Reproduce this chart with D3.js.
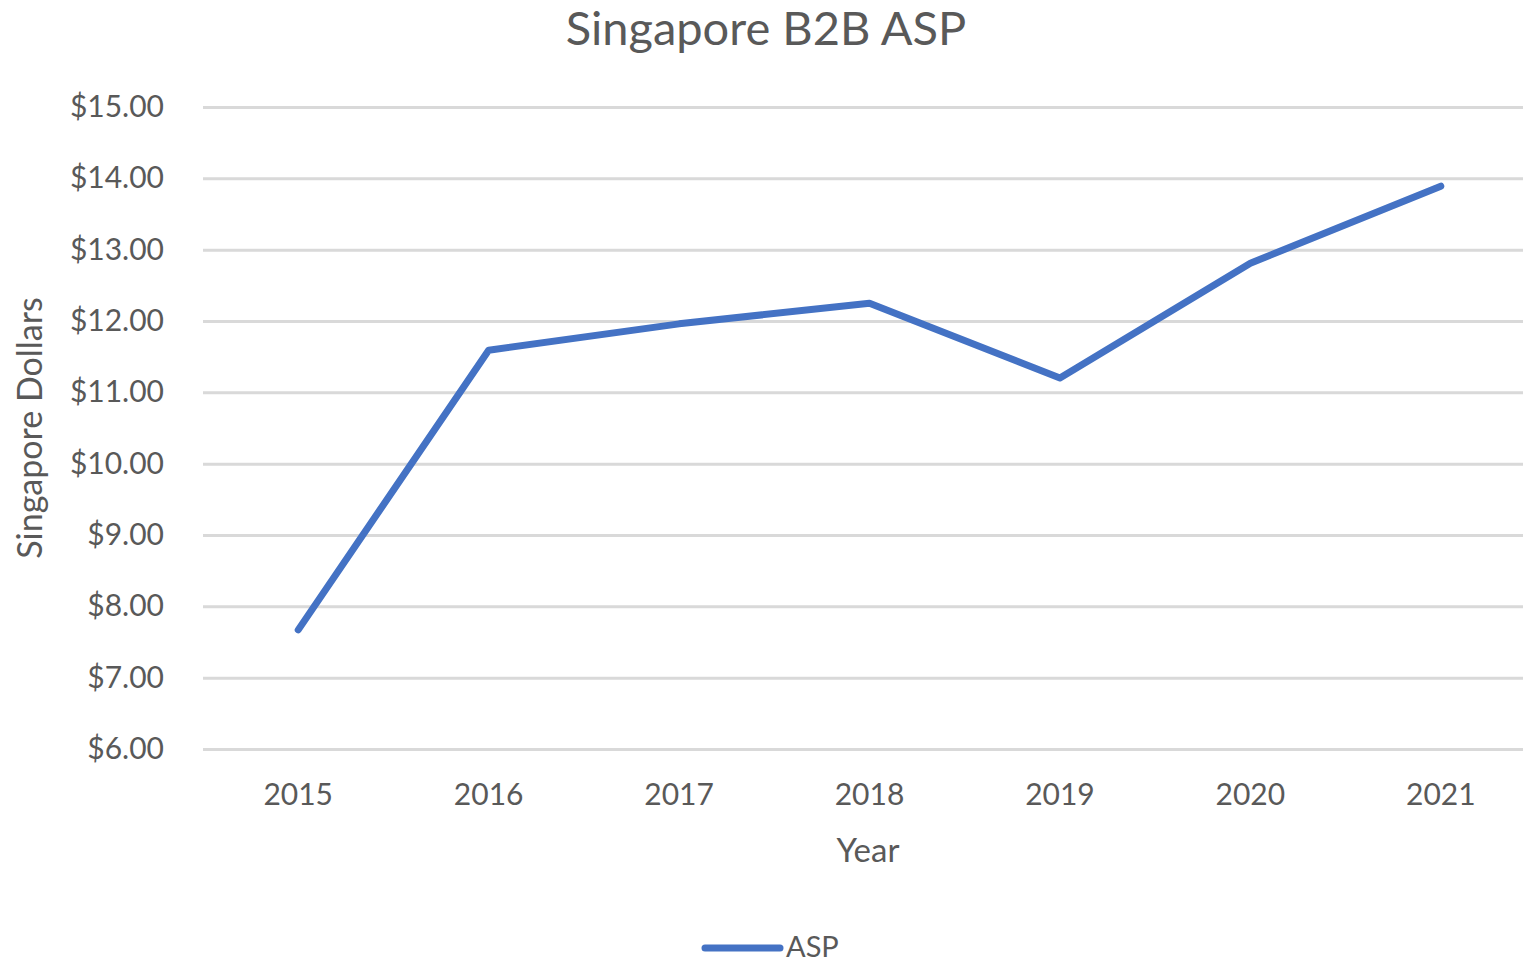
<!DOCTYPE html>
<html>
<head>
<meta charset="utf-8">
<script src="https://cdn.jsdelivr.net/npm/d3@7"></script>
<style>
  html, body { margin: 0; padding: 0; background: #fff; }
  svg { display: block; font-family: Lato, "Open Sans", sans-serif; }
</style>
</head>
<body>
<div id="chart"></div>
<script>
// Singapore B2B ASP — lijn per jaar
const years = ['2015', '2016', '2017', '2018', '2019', '2020', '2021'];
const asp = [7.67, 11.59, 11.96, 12.25, 11.20, 12.81, 13.89];
const yTicks = [6, 7, 8, 9, 10, 11, 12, 13, 14, 15];

const W = 1524, H = 963;
const margin = { top: 107, left: 203 };
const bandW = 1333;            // breedte van de categorie-as (loopt net buiten beeld)
const gridW = W - margin.left - 1;
const innerH = 642;

const TEXT = '#595959', GRID = '#d9d9d9', LINE = '#4472c4';

const svg = d3.select('#chart').append('svg')
  .attr('width', W).attr('height', H);

const g = svg.append('g').attr('transform', `translate(${margin.left},${margin.top})`);

const x = d3.scaleBand().domain(years).range([0, bandW]);
const y = d3.scaleLinear().domain([6, 15]).range([innerH, 0]);

// gridlijnen + y-labels
const yAxis = g.append('g')
  .call(d3.axisLeft(y).tickValues(yTicks).tickSize(-gridW).tickPadding(39)
    .tickFormat(d => '$' + d3.format('.2f')(d)));
yAxis.select('.domain').remove();
yAxis.selectAll('.tick line').attr('stroke', GRID).attr('stroke-width', 3);
yAxis.selectAll('.tick text').attr('fill', TEXT).attr('font-size', 30).attr('font-family', 'Lato, sans-serif');

// x-labels
const xAxis = g.append('g').attr('transform', `translate(0,${innerH})`)
  .call(d3.axisBottom(x).tickSize(0).tickPadding(35));
xAxis.select('.domain').remove();
xAxis.selectAll('.tick text').attr('fill', TEXT).attr('font-size', 30).attr('font-family', 'Lato, sans-serif');

// de lijn
const line = d3.line()
  .x((d, i) => x(years[i]) + x.bandwidth() / 2)
  .y(d => y(d));
g.append('path').datum(asp)
  .attr('fill', 'none').attr('stroke', LINE).attr('stroke-width', 7)
  .attr('stroke-linecap', 'round').attr('stroke-linejoin', 'round')
  .attr('d', line);

// titels
svg.append('text').attr('x', 766).attr('y', 45).attr('text-anchor', 'middle')
  .attr('fill', TEXT).attr('font-size', 47).text('Singapore B2B ASP');
svg.append('text').attr('x', 868).attr('y', 862).attr('text-anchor', 'middle')
  .attr('fill', TEXT).attr('font-size', 33).text('Year');
svg.append('text').attr('transform', 'translate(42,428) rotate(-90)').attr('text-anchor', 'middle')
  .attr('fill', TEXT).attr('font-size', 34).text('Singapore Dollars');

// legenda
const leg = svg.append('g').attr('transform', 'translate(705,948)');
leg.append('line').attr('x1', 0).attr('x2', 75).attr('y1', 0).attr('y2', 0)
  .attr('stroke', LINE).attr('stroke-width', 7).attr('stroke-linecap', 'round');
leg.append('text').attr('x', 81).attr('y', 9).attr('fill', TEXT).attr('font-size', 29).text('ASP');
</script>
</body>
</html>
